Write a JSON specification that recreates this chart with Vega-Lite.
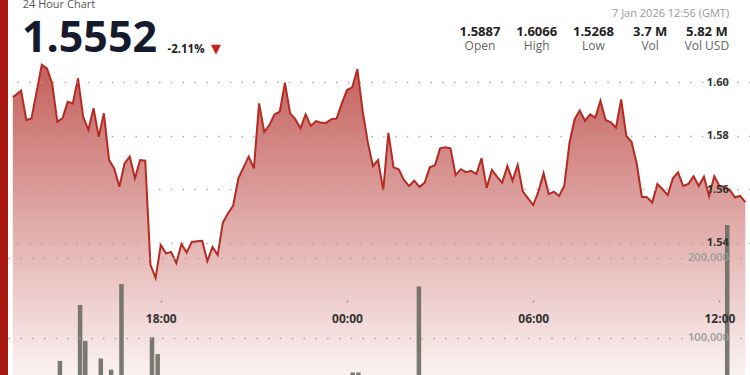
{
  "$schema": "https://vega.github.io/schema/vega-lite/v6.json",
  "padding": {"left": 8, "top": 0, "right": 0, "bottom": 0},
  "background": "#a8170f",
  "spacing": 0,
  "config": {"view": {"fill": "white", "stroke": null}, "font": "Open Sans"},
  "datasets": {
    "header": [{"price": "1.5552", "change": "-2.11%", "title": "24 Hour Chart", "stamp": "7 Jan 2026 12:56 (GMT)", "stat": "Vol USD"}],
    "stats": [
      {"stat": "Open", "value": "1.5887"},
      {"stat": "High", "value": "1.6066"},
      {"stat": "Low", "value": "1.5268"},
      {"stat": "Vol", "value": "3.7 M"},
      {"stat": "Vol USD", "value": "5.82 M"}
    ],
    "price": [
      {"t": "2026-01-06T13:14:00Z", "p": 1.5944},
      {"t": "2026-01-06T13:30:00Z", "p": 1.5969},
      {"t": "2026-01-06T13:40:00Z", "p": 1.5859},
      {"t": "2026-01-06T13:50:00Z", "p": 1.5865},
      {"t": "2026-01-06T14:10:00Z", "p": 1.6066},
      {"t": "2026-01-06T14:20:00Z", "p": 1.6052},
      {"t": "2026-01-06T14:30:00Z", "p": 1.5996},
      {"t": "2026-01-06T14:40:00Z", "p": 1.5853},
      {"t": "2026-01-06T14:50:00Z", "p": 1.5865},
      {"t": "2026-01-06T15:00:00Z", "p": 1.5927},
      {"t": "2026-01-06T15:10:00Z", "p": 1.5921},
      {"t": "2026-01-06T15:20:00Z", "p": 1.6015},
      {"t": "2026-01-06T15:30:00Z", "p": 1.5871},
      {"t": "2026-01-06T15:40:00Z", "p": 1.5822},
      {"t": "2026-01-06T15:50:00Z", "p": 1.5903},
      {"t": "2026-01-06T16:00:00Z", "p": 1.5796},
      {"t": "2026-01-06T16:10:00Z", "p": 1.5884},
      {"t": "2026-01-06T16:20:00Z", "p": 1.5709},
      {"t": "2026-01-06T16:30:00Z", "p": 1.5678},
      {"t": "2026-01-06T16:40:00Z", "p": 1.5609},
      {"t": "2026-01-06T16:50:00Z", "p": 1.5697},
      {"t": "2026-01-06T17:00:00Z", "p": 1.5722},
      {"t": "2026-01-06T17:10:00Z", "p": 1.5641},
      {"t": "2026-01-06T17:20:00Z", "p": 1.5709},
      {"t": "2026-01-06T17:30:00Z", "p": 1.5707},
      {"t": "2026-01-06T17:40:00Z", "p": 1.5317},
      {"t": "2026-01-06T17:50:00Z", "p": 1.5268},
      {"t": "2026-01-06T18:00:00Z", "p": 1.5391},
      {"t": "2026-01-06T18:10:00Z", "p": 1.5360},
      {"t": "2026-01-06T18:20:00Z", "p": 1.5365},
      {"t": "2026-01-06T18:30:00Z", "p": 1.5324},
      {"t": "2026-01-06T18:40:00Z", "p": 1.5395},
      {"t": "2026-01-06T18:50:00Z", "p": 1.5363},
      {"t": "2026-01-06T19:00:00Z", "p": 1.5403},
      {"t": "2026-01-06T19:10:00Z", "p": 1.5405},
      {"t": "2026-01-06T19:20:00Z", "p": 1.5407},
      {"t": "2026-01-06T19:30:00Z", "p": 1.5331},
      {"t": "2026-01-06T19:40:00Z", "p": 1.5384},
      {"t": "2026-01-06T19:50:00Z", "p": 1.5354},
      {"t": "2026-01-06T20:00:00Z", "p": 1.5475},
      {"t": "2026-01-06T20:10:00Z", "p": 1.5510},
      {"t": "2026-01-06T20:20:00Z", "p": 1.5539},
      {"t": "2026-01-06T20:30:00Z", "p": 1.5641},
      {"t": "2026-01-06T20:40:00Z", "p": 1.5682},
      {"t": "2026-01-06T20:50:00Z", "p": 1.5722},
      {"t": "2026-01-06T21:00:00Z", "p": 1.5678},
      {"t": "2026-01-06T21:10:00Z", "p": 1.5921},
      {"t": "2026-01-06T21:20:00Z", "p": 1.5815},
      {"t": "2026-01-06T21:30:00Z", "p": 1.5840},
      {"t": "2026-01-06T21:40:00Z", "p": 1.5881},
      {"t": "2026-01-06T21:50:00Z", "p": 1.5890},
      {"t": "2026-01-06T22:00:00Z", "p": 1.5999},
      {"t": "2026-01-06T22:10:00Z", "p": 1.5884},
      {"t": "2026-01-06T22:20:00Z", "p": 1.5862},
      {"t": "2026-01-06T22:30:00Z", "p": 1.5828},
      {"t": "2026-01-06T22:40:00Z", "p": 1.5880},
      {"t": "2026-01-06T22:50:00Z", "p": 1.5837},
      {"t": "2026-01-06T23:00:00Z", "p": 1.5855},
      {"t": "2026-01-06T23:10:00Z", "p": 1.5849},
      {"t": "2026-01-06T23:20:00Z", "p": 1.5849},
      {"t": "2026-01-06T23:30:00Z", "p": 1.5862},
      {"t": "2026-01-06T23:40:00Z", "p": 1.5865},
      {"t": "2026-01-06T23:50:00Z", "p": 1.5921},
      {"t": "2026-01-07T00:00:00Z", "p": 1.5971},
      {"t": "2026-01-07T00:10:00Z", "p": 1.5981},
      {"t": "2026-01-07T00:20:00Z", "p": 1.6049},
      {"t": "2026-01-07T00:30:00Z", "p": 1.5896},
      {"t": "2026-01-07T00:40:00Z", "p": 1.5778},
      {"t": "2026-01-07T00:50:00Z", "p": 1.5687},
      {"t": "2026-01-07T01:00:00Z", "p": 1.5709},
      {"t": "2026-01-07T01:10:00Z", "p": 1.5597},
      {"t": "2026-01-07T01:20:00Z", "p": 1.5811},
      {"t": "2026-01-07T01:30:00Z", "p": 1.5682},
      {"t": "2026-01-07T01:40:00Z", "p": 1.5675},
      {"t": "2026-01-07T01:50:00Z", "p": 1.5635},
      {"t": "2026-01-07T02:00:00Z", "p": 1.5612},
      {"t": "2026-01-07T02:10:00Z", "p": 1.5632},
      {"t": "2026-01-07T02:20:00Z", "p": 1.5609},
      {"t": "2026-01-07T02:30:00Z", "p": 1.5624},
      {"t": "2026-01-07T02:40:00Z", "p": 1.5682},
      {"t": "2026-01-07T02:50:00Z", "p": 1.5690},
      {"t": "2026-01-07T03:00:00Z", "p": 1.5753},
      {"t": "2026-01-07T03:10:00Z", "p": 1.5757},
      {"t": "2026-01-07T03:20:00Z", "p": 1.5753},
      {"t": "2026-01-07T03:30:00Z", "p": 1.5653},
      {"t": "2026-01-07T03:40:00Z", "p": 1.5675},
      {"t": "2026-01-07T03:50:00Z", "p": 1.5664},
      {"t": "2026-01-07T04:00:00Z", "p": 1.5669},
      {"t": "2026-01-07T04:10:00Z", "p": 1.5657},
      {"t": "2026-01-07T04:20:00Z", "p": 1.5716},
      {"t": "2026-01-07T04:30:00Z", "p": 1.5605},
      {"t": "2026-01-07T04:40:00Z", "p": 1.5672},
      {"t": "2026-01-07T04:50:00Z", "p": 1.5647},
      {"t": "2026-01-07T05:00:00Z", "p": 1.5624},
      {"t": "2026-01-07T05:10:00Z", "p": 1.5687},
      {"t": "2026-01-07T05:20:00Z", "p": 1.5632},
      {"t": "2026-01-07T05:30:00Z", "p": 1.5691},
      {"t": "2026-01-07T05:40:00Z", "p": 1.5591},
      {"t": "2026-01-07T05:50:00Z", "p": 1.5566},
      {"t": "2026-01-07T06:00:00Z", "p": 1.5541},
      {"t": "2026-01-07T06:10:00Z", "p": 1.5591},
      {"t": "2026-01-07T06:20:00Z", "p": 1.5660},
      {"t": "2026-01-07T06:30:00Z", "p": 1.5582},
      {"t": "2026-01-07T06:40:00Z", "p": 1.5591},
      {"t": "2026-01-07T06:50:00Z", "p": 1.5575},
      {"t": "2026-01-07T07:00:00Z", "p": 1.5612},
      {"t": "2026-01-07T07:10:00Z", "p": 1.5772},
      {"t": "2026-01-07T07:20:00Z", "p": 1.5862},
      {"t": "2026-01-07T07:30:00Z", "p": 1.5894},
      {"t": "2026-01-07T07:40:00Z", "p": 1.5856},
      {"t": "2026-01-07T07:50:00Z", "p": 1.5880},
      {"t": "2026-01-07T08:00:00Z", "p": 1.5868},
      {"t": "2026-01-07T08:10:00Z", "p": 1.5931},
      {"t": "2026-01-07T08:20:00Z", "p": 1.5859},
      {"t": "2026-01-07T08:30:00Z", "p": 1.5850},
      {"t": "2026-01-07T08:40:00Z", "p": 1.5830},
      {"t": "2026-01-07T08:50:00Z", "p": 1.5936},
      {"t": "2026-01-07T09:00:00Z", "p": 1.5799},
      {"t": "2026-01-07T09:10:00Z", "p": 1.5778},
      {"t": "2026-01-07T09:20:00Z", "p": 1.5697},
      {"t": "2026-01-07T09:30:00Z", "p": 1.5572},
      {"t": "2026-01-07T09:40:00Z", "p": 1.5570},
      {"t": "2026-01-07T09:50:00Z", "p": 1.5550},
      {"t": "2026-01-07T10:00:00Z", "p": 1.5620},
      {"t": "2026-01-07T10:10:00Z", "p": 1.5600},
      {"t": "2026-01-07T10:20:00Z", "p": 1.5578},
      {"t": "2026-01-07T10:30:00Z", "p": 1.5641},
      {"t": "2026-01-07T10:40:00Z", "p": 1.5663},
      {"t": "2026-01-07T10:50:00Z", "p": 1.5612},
      {"t": "2026-01-07T11:00:00Z", "p": 1.5620},
      {"t": "2026-01-07T11:10:00Z", "p": 1.5649},
      {"t": "2026-01-07T11:20:00Z", "p": 1.5612},
      {"t": "2026-01-07T11:30:00Z", "p": 1.5647},
      {"t": "2026-01-07T11:40:00Z", "p": 1.5575},
      {"t": "2026-01-07T11:50:00Z", "p": 1.5649},
      {"t": "2026-01-07T12:00:00Z", "p": 1.5612},
      {"t": "2026-01-07T12:10:00Z", "p": 1.5609},
      {"t": "2026-01-07T12:20:00Z", "p": 1.5597},
      {"t": "2026-01-07T12:30:00Z", "p": 1.5570},
      {"t": "2026-01-07T12:40:00Z", "p": 1.5575},
      {"t": "2026-01-07T12:50:00Z", "p": 1.5552}
    ],
    "volume": [
      {"t": "2026-01-06T14:45:00Z", "v": 71000},
      {"t": "2026-01-06T15:24:00Z", "v": 141000},
      {"t": "2026-01-06T15:34:00Z", "v": 96000},
      {"t": "2026-01-06T16:04:00Z", "v": 74000},
      {"t": "2026-01-06T16:24:00Z", "v": 60000},
      {"t": "2026-01-06T16:44:00Z", "v": 167000},
      {"t": "2026-01-06T17:43:00Z", "v": 100500},
      {"t": "2026-01-06T17:54:00Z", "v": 79500},
      {"t": "2026-01-07T00:11:00Z", "v": 56500},
      {"t": "2026-01-07T00:22:00Z", "v": 56500},
      {"t": "2026-01-07T02:19:00Z", "v": 164000},
      {"t": "2026-01-07T12:15:00Z", "v": 241000}
    ]
  },
  "vconcat": [
    {
      "spacing": 0,
      "bounds": "flush",
      "hconcat": [
        {
          "width": 159, "height": 58,
          "view": {"fill": "white", "stroke": null},
          "data": {"name": "header"},
          "layer": [
            {"mark": {"type": "text", "clip": true, "align": "left", "baseline": "alphabetic", "dx": -64.8, "dy": -20.8, "fontSize": 11, "color": "#555555"},
             "encoding": {"text": {"field": "title"}}},
            {"mark": {"type": "text", "clip": true, "align": "center", "baseline": "alphabetic", "dx": 2, "dy": 23.3, "fontSize": 43, "fontWeight": "bold", "color": "#151a2d"},
             "encoding": {"text": {"field": "price"}}}
          ]
        },
        {
          "width": 38, "height": 58,
          "view": {"fill": "white", "stroke": null},
          "data": {"name": "header"},
          "mark": {"type": "text", "align": "center", "baseline": "alphabetic", "dy": 23.7, "fontSize": 11.5, "fontWeight": "bold", "color": "#222222"},
          "encoding": {"text": {"field": "change"}}
        },
        {
          "width": 22, "height": 58,
          "view": {"fill": "white", "stroke": null},
          "data": {"name": "header"},
          "mark": {"type": "text", "text": "▼", "font": "DejaVu Sans", "align": "center", "baseline": "alphabetic", "dy": 24, "fontSize": 13, "color": "#c0211b"},
          "encoding": {}
        },
        {
          "width": 126, "height": 58,
          "view": {"fill": "white", "stroke": null},
          "data": {"values": []},
          "mark": {"type": "text"},
          "encoding": {}
        },
        {
          "width": 397, "height": 58,
          "view": {"fill": "white", "stroke": null},
          "layer": [
            {
              "data": {"name": "stats"},
              "mark": {"type": "text", "align": "center", "baseline": "alphabetic", "dy": 7, "fontSize": 13, "fontWeight": "bold", "color": "#222222"},
              "encoding": {
                "x": {"field": "stat", "type": "nominal", "sort": null, "axis": null,
                      "scale": {"type": "band", "domain": ["Open", "High", "Low", "Vol", "Vol USD"], "paddingInner": 0, "paddingOuter": 1, "align": 0.8693}},
                "text": {"field": "value"}
              }
            },
            {
              "data": {"name": "stats"},
              "mark": {"type": "text", "align": "center", "baseline": "alphabetic", "dy": 21.3, "fontSize": 12, "color": "#666666"},
              "encoding": {
                "x": {"field": "stat", "type": "nominal", "sort": null, "axis": null},
                "text": {"field": "stat"}
              }
            },
            {
              "data": {"name": "header"},
              "mark": {"type": "text", "align": "right", "baseline": "alphabetic", "dx": -6, "dy": -11.7, "fontSize": 11, "color": "#999999"},
              "encoding": {
                "x": {"field": "stat", "type": "nominal", "axis": null, "bandPosition": 1},
                "text": {"field": "stamp"}
              }
            }
          ]
        }
      ]
    },
    {
      "width": 742,
      "height": 317,
      "layer": [
        {
          "data": {"name": "price"},
          "encoding": {
            "x": {"field": "t", "type": "temporal",
                  "scale": {"type": "utc", "domain": [{"year": 2026, "month": 1, "date": 6, "hours": 13, "minutes": 14, "seconds": 18, "utc": true}, {"year": 2026, "month": 1, "date": 7, "hours": 12, "minutes": 49, "seconds": 24, "utc": true}]},
                  "axis": {"orient": "bottom", "offset": -75, "title": null, "format": "%H:%M", "domain": false, "grid": false,
                           "values": [{"year": 2026, "month": 1, "date": 6, "hours": 18, "utc": true}, {"year": 2026, "month": 1, "date": 7, "hours": 0, "utc": true}, {"year": 2026, "month": 1, "date": 7, "hours": 6, "utc": true}, {"year": 2026, "month": 1, "date": 7, "hours": 12, "utc": true}],
                           "tickSize": 2, "tickWidth": 1.5, "tickColor": "#999999", "labelPadding": 11,
                           "labelFont": "Open Sans", "labelFontSize": 12, "labelFontWeight": "bold", "labelColor": "#333333", "zindex": 1}},
            "y": {"field": "p", "type": "quantitative",
                  "scale": {"domain": [1.4905, 1.6091], "nice": false, "zero": false},
                  "axis": {"orient": "right", "offset": -21.7, "title": null, "values": [1.54, 1.56, 1.58, 1.60], "format": ".2f",
                           "domain": false, "ticks": false, "tickSize": 0, "labelPadding": 0, "labelAlign": "right",
                           "labelFont": "Open Sans", "labelFontSize": 11, "labelFontWeight": "bold", "labelColor": "#333333",
                           "grid": true, "gridColor": "#a8a8a8", "gridDash": [1.5, 10.3], "gridWidth": 1.5, "zindex": 1}}
          },
          "layer": [
            {"mark": {"type": "area", "clip": true, "color": {"gradient": "linear", "x1": 0, "y1": 0, "x2": 0, "y2": 1, "stops": [{"offset": 0, "color": "#c4605c"}, {"offset": 1, "color": "#fbf2f2"}]}},
             "encoding": {"y2": {"datum": 1.4905}}},
            {"mark": {"type": "line", "clip": true, "color": "#b52a22", "strokeWidth": 2}}
          ]
        },
        {
          "data": {"name": "volume"},
          "mark": {"type": "bar", "clip": true, "color": "#6b6b63", "opacity": 0.9, "size": 4.5},
          "encoding": {
            "x": {"field": "t", "type": "temporal",
                  "scale": {"type": "utc", "domain": [{"year": 2026, "month": 1, "date": 6, "hours": 13, "minutes": 14, "seconds": 18, "utc": true}, {"year": 2026, "month": 1, "date": 7, "hours": 12, "minutes": 49, "seconds": 24, "utc": true}]}},
            "y": {"field": "v", "type": "quantitative",
                  "scale": {"domain": [53375, 449625], "nice": false, "zero": false},
                  "axis": {"orient": "left", "offset": -720.3, "title": null, "values": [100000, 200000], "format": ",.0f",
                           "domain": false, "ticks": false, "tickSize": 0, "labelPadding": 0, "labelAlign": "right",
                           "labelFont": "Open Sans", "labelFontSize": 11, "labelFontWeight": 600, "labelColor": "#9a9a9a",
                           "grid": true, "gridColor": "#a8a8a8", "gridDash": [1.5, 10.3], "gridWidth": 1.5, "zindex": 1}},
            "y2": {"datum": 53375}
          }
        }
      ],
      "resolve": {"scale": {"y": "independent"}, "axis": {"y": "independent"}}
    }
  ]
}
